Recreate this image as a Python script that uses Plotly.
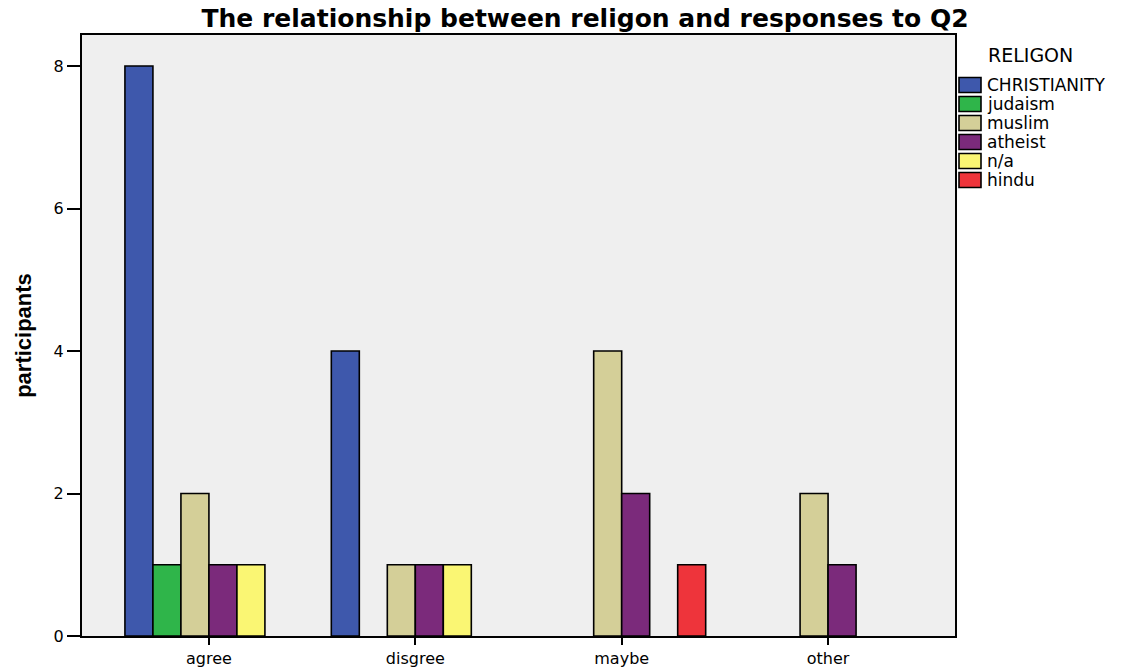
import plotly.graph_objects as go

# Responses to Q2 grouped by religion
responses = ["agree", "disgree", "maybe", "other"]
religions = ["CHRISTIANITY", "judaism", "muslim", "atheist", "n/a", "hindu"]

# participant counts per response (None = no participants in that group)
christianity = [8, 4, None, None]
judaism = [1, None, None, None]
muslim = [2, 1, 4, 2]
atheist = [1, 1, 2, 1]
not_applicable = [1, 1, None, None]
hindu = [None, None, 1, None]

counts = [christianity, judaism, muslim, atheist, not_applicable, hindu]
colors = ["#3E58AC", "#2FB54A", "#D4CF98", "#7B2A7B", "#FAF673", "#EE343B"]

W, H = 1144, 668
M_L, M_R, M_T, M_B = 82, 189, 35, 32
PLOT_W = W - M_L - M_R
PLOT_H = H - M_T - M_B


def px_x(px):
    """page pixel column -> paper x"""
    return (px - M_L) / PLOT_W


def px_y(py):
    """page pixel row -> paper y"""
    return (H - M_B - py) / PLOT_H


fig = go.Figure()
for name, vals, col in zip(religions, counts, colors):
    fig.add_trace(go.Bar(
        name=name,
        x=responses,
        y=vals,
        marker=dict(color=col, line=dict(color="#000000", width=1.6)),
        showlegend=False,
    ))

FONT = "DejaVu Sans, Verdana, sans-serif"

fig.update_layout(
    width=W,
    height=H,
    barmode="group",
    bargap=0.186,
    bargroupgap=0,
    paper_bgcolor="#FFFFFF",
    plot_bgcolor="#EFEFEF",
    margin=dict(l=M_L, r=M_R, t=M_T, b=M_B),
    title=dict(
        text="<b>The relationship between religon and responses to Q2</b>",
        font=dict(family=FONT, size=25, color="#000000"),
        x=px_x(585), xref="paper", xanchor="center",
        y=1 - 18 / H, yref="container", yanchor="middle",
    ),
    xaxis=dict(
        range=[-0.615, 3.615],
        automargin=False,
        showline=True, linecolor="#000000", linewidth=2, mirror=True,
        ticks="outside", ticklen=7, tickwidth=2, tickcolor="#000000",
        tickfont=dict(family=FONT, size=16, color="#000000"),
        showgrid=False, zeroline=False,
    ),
    yaxis=dict(
        range=[0, 8.435],
        automargin=False,
        tickvals=[0, 2, 4, 6, 8],
        showline=True, linecolor="#000000", linewidth=2, mirror=True,
        ticks="outside", ticklen=13, tickwidth=2, tickcolor="#000000",
        tickfont=dict(family=FONT, size=16, color="#000000"),
        showgrid=False, zeroline=False,
        title=dict(
            text="<b>participants</b>",
            font=dict(family="Liberation Sans Narrow, Arial Narrow, Liberation Sans, sans-serif",
                      size=22, color="#000000"),
            standoff=16,
        ),
    ),
    showlegend=False,
)

# legend: heading plus one swatch/label row per religion
fig.add_annotation(
    text="RELIGON",
    xref="paper", yref="paper",
    x=px_x(986), y=px_y(55),
    xanchor="left", yanchor="middle",
    showarrow=False,
    font=dict(family=FONT, size=19, color="#000000"),
)
row0, row_step = 85, 19
for i, (name, col) in enumerate(zip(religions, colors)):
    cy = row0 + i * row_step
    fig.add_shape(
        type="rect", xref="paper", yref="paper",
        x0=px_x(959), x1=px_x(981), y0=px_y(cy - 7.5), y1=px_y(cy + 7.5),
        fillcolor=col, line=dict(color="#000000", width=1.6),
    )
    fig.add_annotation(
        text=name,
        xref="paper", yref="paper",
        x=px_x(985), y=px_y(cy),
        xanchor="left", yanchor="middle",
        showarrow=False,
        font=dict(family=FONT, size=17, color="#000000"),
    )

fig.write_html("out.html")
